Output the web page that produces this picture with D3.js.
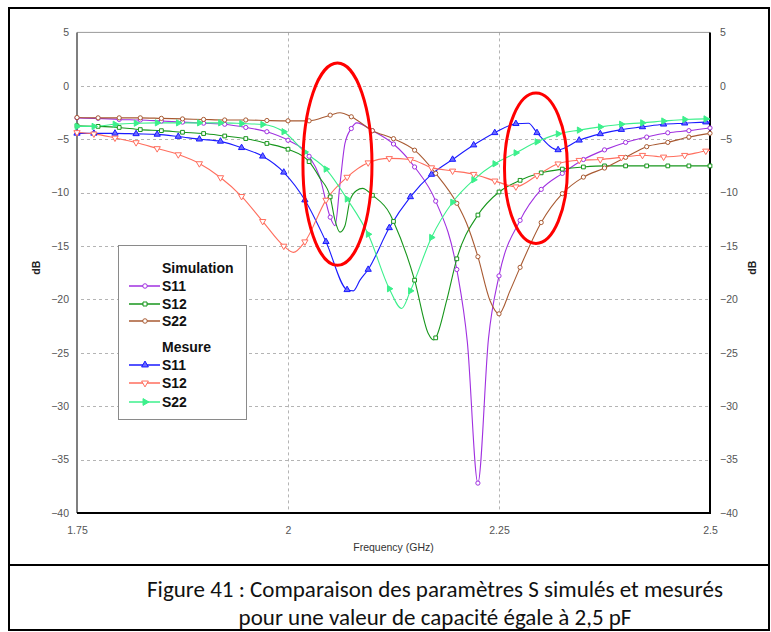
<!DOCTYPE html>
<html><head><meta charset="utf-8">
<script src="https://cdn.jsdelivr.net/npm/d3@7"></script>
<style>body{margin:0;background:#fff}</style>
</head><body>
<svg id="chart" width="771" height="632"></svg>
<script>
// ---------- data ----------
const xTicks = [1.75, 2, 2.25, 2.5];
const yTicks = [5, 0, -5, -10, -15, -20, -25, -30, -35, -40];
const xLabel = "Frequency (GHz)";
const yLabel = "dB";
const groups = ["Simulation", "Mesure"];
const names = ["S11", "S12", "S22"];
const caption = ["Figure 41 : Comparaison des paramètres S simulés et mesurés",
                 "pour une valeur de capacité égale à 2,5 pF"];

// Simulation (frequency GHz, dB)
const simS11 = [[1.75,-3.0],[1.775,-3.05],[1.8,-3.15],[1.825,-3.2],[1.85,-3.3],[1.875,-3.4],[1.9,-3.5],
  [1.925,-3.6],[1.95,-3.9],[1.975,-4.3],[2.0,-5.1],[2.025,-6.6],[2.0375,-8.5],[2.05,-12.3],[2.0557,-13.1],
  [2.0616,-9.2],[2.0675,-5.4],[2.075,-4.0],[2.0814,-3.47],[2.1,-4.2],[2.125,-5.45],[2.15,-7.6],[2.175,-10.8],
  [2.2,-17.2],[2.2125,-24.0],[2.225,-37.2],[2.2375,-23.7],[2.25,-17.8],[2.275,-12.6],[2.3,-9.7],[2.325,-8.2],
  [2.35,-6.9],[2.375,-6.0],[2.4,-5.3],[2.425,-4.8],[2.45,-4.4],[2.475,-4.2],[2.5,-3.95]];
const simS12 = [[1.75,-3.75],[1.775,-3.8],[1.8,-3.9],[1.825,-4.1],[1.85,-4.2],[1.875,-4.35],[1.9,-4.47],
  [1.925,-4.7],[1.95,-4.94],[1.975,-5.4],[2.0,-5.94],[2.025,-7.1],[2.0375,-8.6],[2.05,-10.4],[2.0557,-12.6],
  [2.0616,-13.7],[2.0675,-13.1],[2.0735,-10.7],[2.0814,-9.8],[2.0883,-9.6],[2.1,-10.25],[2.1208,-12.0],
  [2.125,-12.7],[2.15,-18.2],[2.1662,-23.2],[2.1722,-23.8],[2.175,-23.6],[2.188,-20.1],[2.2,-16.2],
  [2.225,-12.1],[2.25,-9.94],[2.275,-8.85],[2.3,-8.15],[2.325,-7.8],[2.35,-7.6],[2.375,-7.5],[2.4,-7.5],
  [2.425,-7.5],[2.45,-7.5],[2.475,-7.5],[2.5,-7.5]];
const simS22 = [[1.75,-2.97],[1.775,-3.0],[1.8,-3.0],[1.825,-3.0],[1.85,-3.05],[1.875,-3.1],[1.9,-3.15],
  [1.925,-3.2],[1.95,-3.2],[1.975,-3.25],[2.0,-3.28],[2.025,-3.28],[2.05,-2.75],[2.0616,-2.53],[2.075,-2.9],
  [2.1,-4.2],[2.125,-4.95],[2.15,-6.03],[2.175,-8.2],[2.2,-11.0],[2.2117,-12.9],[2.225,-16.0],[2.2393,-20.1],
  [2.25,-21.35],[2.263,-19.2],[2.275,-17.0],[2.3,-12.8],[2.325,-10.1],[2.35,-8.55],[2.375,-7.7],[2.4,-6.7],
  [2.425,-5.7],[2.45,-5.3],[2.475,-4.8],[2.5,-4.45]];

// Mesure (frequency GHz, dB)
const mesS11 = [[1.75,-4.45],[1.77,-4.45],[1.795,-4.45],[1.82,-4.5],[1.845,-4.55],[1.87,-4.75],[1.895,-5.0],
  [1.92,-5.2],[1.945,-5.8],[1.97,-6.6],[1.995,-8.1],[2.02,-10.7],[2.045,-14.6],[2.07,-19.1],[2.0774,-19.2],
  [2.0853,-18.2],[2.095,-17.2],[2.12,-13.3],[2.145,-10.4],[2.17,-8.3],[2.195,-6.9],[2.22,-5.55],[2.245,-4.4],
  [2.27,-3.55],[2.285,-3.5],[2.295,-4.4],[2.32,-6.0],[2.345,-5.1],[2.37,-4.5],[2.395,-4.1],[2.42,-3.85],
  [2.445,-3.6],[2.47,-3.5],[2.495,-3.4],[2.5,-3.4]];
const mesS12 = [[1.75,-4.37],[1.77,-4.5],[1.795,-4.88],[1.82,-5.31],[1.845,-5.87],[1.87,-6.44],[1.895,-7.28],
  [1.92,-8.59],[1.945,-10.35],[1.97,-12.69],[1.995,-15.0],[2.0063,-15.6],[2.02,-14.6],[2.045,-10.7],
  [2.07,-8.55],[2.095,-7.2],[2.12,-6.8],[2.145,-6.9],[2.17,-7.66],[2.195,-7.97],[2.22,-8.28],[2.245,-8.9],
  [2.27,-9.45],[2.295,-8.4],[2.32,-7.3],[2.345,-6.97],[2.37,-6.9],[2.395,-6.7],[2.42,-6.5],[2.445,-6.66],
  [2.47,-6.5],[2.495,-6.1],[2.5,-6.05]];
const mesS22 = [[1.75,-3.8],[1.77,-3.8],[1.795,-3.6],[1.82,-3.5],[1.845,-3.47],[1.87,-3.47],[1.895,-3.47],
  [1.92,-3.47],[1.945,-3.53],[1.97,-3.62],[1.995,-4.3],[2.02,-6.2],[2.045,-7.8],[2.07,-10.6],[2.095,-13.9],
  [2.12,-19.0],[2.1347,-20.85],[2.145,-19.2],[2.17,-14.2],[2.195,-10.9],[2.22,-8.8],[2.245,-7.3],[2.27,-6.28],
  [2.295,-5.25],[2.32,-4.5],[2.345,-4.15],[2.37,-3.85],[2.395,-3.6],[2.42,-3.47],[2.445,-3.3],[2.47,-3.15],
  [2.495,-3.1],[2.5,-3.1]];

// red annotation ellipses (centre frequency, centre dB, half-width GHz, half-height dB)
const ellipses = [[2.0586, -7.34, 0.0409, 9.47], [2.2938, -7.72, 0.0373, 7.04]];

// ---------- drawing ----------
const svg = d3.select("#chart");
const W = 771, H = 632;
const m = {l: 77, r: 710, t: 32.4, b: 513};
const x = d3.scaleLinear().domain([1.75, 2.5]).range([m.l, m.r]);
const y = d3.scaleLinear().domain([-40, 5]).range([m.b, m.t]);

svg.append("rect").attr("width", W).attr("height", H).attr("fill", "#fff");

// outer figure frame
svg.append("rect").attr("x", 9).attr("y", 8).attr("width", 760).attr("height", 622)
  .attr("fill", "none").attr("stroke", "#000").attr("stroke-width", 2);
svg.append("line").attr("x1", 9).attr("x2", 769).attr("y1", 565).attr("y2", 565)
  .attr("stroke", "#000").attr("stroke-width", 2);

// grid
const grid = svg.append("g").attr("stroke", "#b4b4b4").attr("stroke-width", 1).attr("stroke-dasharray", "3,3");
yTicks.filter(v => v < 5 && v > -40).forEach(v => {
  grid.append("line").attr("x1", m.l + 4).attr("x2", m.r).attr("y1", Math.round(y(v)) + 0.5).attr("y2", Math.round(y(v)) + 0.5);
});
xTicks.filter(v => v > 1.75 && v < 2.5).forEach(v => {
  grid.append("line").attr("y1", m.t).attr("y2", m.b).attr("x1", Math.round(x(v)) + 0.5).attr("x2", Math.round(x(v)) + 0.5);
});

// frame lines
svg.append("line").attr("x1", m.l).attr("x2", m.r).attr("y1", m.t).attr("y2", m.t).attr("stroke", "#9a9a9a").attr("stroke-width", 1);
svg.append("line").attr("x1", m.l).attr("x2", m.l).attr("y1", m.t).attr("y2", m.b).attr("stroke", "#555").attr("stroke-width", 1.5);
svg.append("line").attr("x1", m.l).attr("x2", m.r + 1).attr("y1", m.b).attr("y2", m.b).attr("stroke", "#000").attr("stroke-width", 2);
svg.append("line").attr("x1", m.r).attr("x2", m.r).attr("y1", m.t).attr("y2", m.b).attr("stroke", "#000").attr("stroke-width", 2);

// axes (labels only)
const tickFont = "'Liberation Sans', Arial, sans-serif";
function styleAxis(g) {
  g.select(".domain").remove();
  g.selectAll(".tick line").remove();
  g.selectAll("text").attr("fill", "#555").style("font-family", tickFont).style("font-size", "10.5px");
}
svg.append("g").attr("transform", `translate(${m.l - 8},0)`)
  .call(d3.axisLeft(y).tickValues(yTicks).tickSize(0).tickPadding(0).tickFormat(d3.format("d"))).call(styleAxis);
svg.append("g").attr("transform", `translate(${m.r + 10},0)`)
  .call(d3.axisRight(y).tickValues(yTicks).tickSize(0).tickPadding(0).tickFormat(d3.format("d"))).call(styleAxis);
svg.append("g").attr("transform", `translate(0,${m.b + 14})`)
  .call(d3.axisBottom(x).tickValues(xTicks).tickSize(0).tickPadding(0).tickFormat(d => String(d))).call(styleAxis);

svg.append("text").attr("x", (m.l + m.r) / 2).attr("y", 551).attr("text-anchor", "middle")
  .attr("fill", "#333").style("font-family", tickFont).style("font-size", "10.5px").text(xLabel);
[36, 752].forEach(px => {
  svg.append("text").attr("transform", `translate(${px},${(m.t + m.b) / 2 - 5}) rotate(-90)`)
    .attr("text-anchor", "middle").attr("dy", "0.35em").attr("fill", "#222")
    .style("font-family", tickFont).style("font-size", "10.5px").style("font-weight", "bold").text(yLabel);
});

// series definitions
const series = [
  {name: names[0], group: 0, data: simS11, color: "#a030e0", sym: d3.symbolCircle, rot: 0, fill: "#fff", off: 1.75},
  {name: names[1], group: 0, data: simS12, color: "#17961c", sym: d3.symbolSquare, rot: 0, fill: "#fff", off: 1.75},
  {name: names[2], group: 0, data: simS22, color: "#a85a32", sym: d3.symbolCircle, rot: 0, fill: "#fff", off: 1.75},
  {name: names[0], group: 1, data: mesS11, color: "#1a1aff", sym: d3.symbolTriangle, rot: 0, fill: "#6a6aff", off: 1.745},
  {name: names[1], group: 1, data: mesS12, color: "#ff6e5e", sym: d3.symbolTriangle, rot: 180, fill: "#fff", off: 1.745},
  {name: names[2], group: 1, data: mesS22, color: "#3cf08c", sym: d3.symbolTriangle, rot: 90, fill: "#3cf08c", off: 1.745}
];
const isMarker = (f, off) => {
  if (f === 1.75) return true;
  const k = (f - off) / 0.025;
  return Math.abs(k - Math.round(k)) < 1e-6;
};
const line = d3.line().x(d => x(d[0])).y(d => y(d[1])).curve(d3.curveMonotoneX);

const plot = svg.append("g");
series.forEach(s => {
  plot.append("path").attr("d", line(s.data)).attr("fill", "none").attr("stroke", s.color).attr("stroke-width", 1.1);
});
series.forEach(s => {
  const sym = d3.symbol().type(s.sym).size(s.sym === d3.symbolTriangle ? 17 : 14);
  plot.selectAll(null).data(s.data.filter(d => isMarker(d[0], s.off))).join("path")
    .attr("d", sym)
    .attr("transform", d => `translate(${x(d[0])},${y(d[1])}) rotate(${s.rot})`)
    .attr("fill", s.fill).attr("stroke", s.color).attr("stroke-width", 1);
});

// legend
const lg = svg.append("g");
lg.append("rect").attr("x", 118.5).attr("y", 245.5).attr("width", 128).attr("height", 174)
  .attr("fill", "#fff").attr("stroke", "#8a8a8a").attr("stroke-width", 1);
const legendFont = {family: "'Liberation Sans', Arial, sans-serif", size: "14px"};
const headY = [268, 347];
const rowY = [[286, 304, 321], [365, 383, 402]];
groups.forEach((g, gi) => {
  lg.append("text").attr("x", 162).attr("y", headY[gi]).attr("dy", "0.35em")
    .style("font-family", legendFont.family).style("font-size", legendFont.size).style("font-weight", "bold")
    .attr("fill", "#111").text(g);
});
series.forEach((s, i) => {
  const ry = rowY[s.group][i % 3];
  lg.append("line").attr("x1", 129).attr("x2", 160).attr("y1", ry).attr("y2", ry)
    .attr("stroke", s.color).attr("stroke-width", 1.5);
  const sym = d3.symbol().type(s.sym).size(s.sym === d3.symbolTriangle ? 20 : 16);
  lg.append("path").attr("d", sym).attr("transform", `translate(145,${ry}) rotate(${s.rot})`)
    .attr("fill", s.fill).attr("stroke", s.color).attr("stroke-width", 1);
  lg.append("text").attr("x", 162).attr("y", ry).attr("dy", "0.35em")
    .style("font-family", legendFont.family).style("font-size", legendFont.size).style("font-weight", "bold")
    .attr("fill", "#111").text(s.name);
});

// annotation ellipses
ellipses.forEach(e => {
  svg.append("ellipse").attr("cx", x(e[0])).attr("cy", y(e[1]))
    .attr("rx", x(e[0] + e[2]) - x(e[0])).attr("ry", y(e[1] - e[3]) - y(e[1]))
    .attr("fill", "none").attr("stroke", "#ff0000").attr("stroke-width", 3);
});

// caption
caption.forEach((t, i) => {
  svg.append("text").attr("x", 435).attr("y", 597 + i * 28).attr("text-anchor", "middle")
    .style("font-family", "Carlito, Lato, 'Open Sans', sans-serif").style("font-size", "23px")
    .attr("fill", "#111").text(t);
});
</script>
</body></html>
